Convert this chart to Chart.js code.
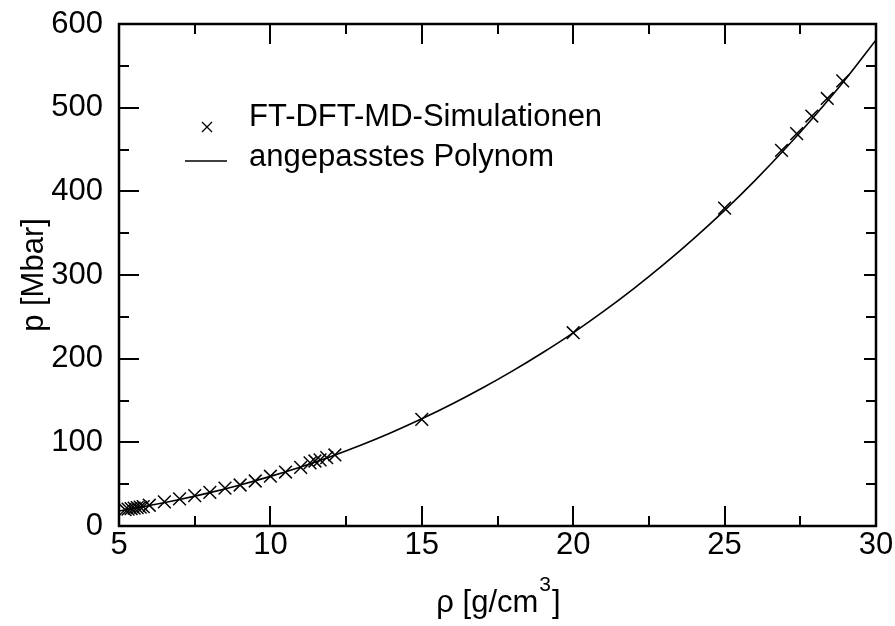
<!DOCTYPE html>
<html>
<head>
<meta charset="utf-8">
<script src="https://cdn.jsdelivr.net/npm/chart.js@4.4.1/dist/chart.umd.min.js"></script>
<style>
  html, body { margin: 0; padding: 0; background: #fff; }
  #wrap { width: 895px; height: 626px; }
</style>
</head>
<body>
<div id="wrap"><canvas id="chart"></canvas></div>
<script>
// --- Data ---
const simDensity  = [5.2, 5.3, 5.4, 5.5, 5.6, 5.7, 5.8, 6.0, 6.5, 7.0, 7.5, 8.0, 8.5, 9.0, 9.5, 10.0, 10.5, 11.0,
                     11.31, 11.47, 11.64, 11.86, 12.13, 15.0, 20.0, 25.0, 26.88, 27.38, 27.88, 28.39, 28.9];
const simPressure = [19.5, 20.2, 20.8, 21.4, 22.0, 22.6, 23.2, 24.8, 28.8, 32.5, 36.3, 40.2, 45.2, 49.0, 53.8, 59.5, 64.5, 70.0,
                     75.5, 77.7, 79.0, 81.7, 84.9, 127.5, 231, 380, 449, 469, 490, 511, 532];

const fitDensity  = [5, 6, 7, 8, 9, 10, 11, 12, 13, 14, 15, 16, 17, 18, 19, 20, 21, 22, 23, 24, 25, 26, 27, 28, 29, 30];
const fitPressure = [18, 24.4, 31.7, 39.9, 49.1, 59.3, 70.6, 83.1, 96.8, 111.8, 128.1, 145.8, 164.9, 185.4, 207.4,
                     230.9, 256.4, 283.7, 312.9, 344.1, 377.3, 412.8, 450.8, 491.3, 534.3, 581];

const legendLabels = ['FT-DFT-MD-Simulationen', 'angepasstes Polynom'];
const xTitleParts = ['ρ [g/cm', '3', ']'];
const yTitle = 'p [Mbar]';

// --- Axis settings ---
const X_MIN = 5, X_MAX = 30, X_MAJOR = 5, X_MINOR = 2.5;
const Y_MIN = 0, Y_MAX = 600, Y_MAJOR = 100, Y_MINOR = 50;
const FONT = '"Liberation Sans", Arial, Helvetica, sans-serif';
const FONT_SIZE = 31;

function toPoints(xs, ys) { return xs.map((v, i) => ({ x: v, y: ys[i] })); }

// Frame and inward ticks on all four sides
const frameTicks = {
  id: 'frameTicks',
  afterDatasetsDraw(chart) {
    const { ctx, chartArea: a, scales: { x, y } } = chart;
    ctx.save();
    ctx.strokeStyle = '#000';
    ctx.lineWidth = 2;
    ctx.beginPath();
    for (let v = X_MIN; v <= X_MAX + 1e-9; v += X_MINOR) {
      const px = Math.round(x.getPixelForValue(v));
      const len = Math.abs(v % X_MAJOR) < 1e-6 ? 20 : 10;
      ctx.moveTo(px, a.bottom); ctx.lineTo(px, a.bottom - len);
      ctx.moveTo(px, a.top); ctx.lineTo(px, a.top + len);
    }
    for (let v = Y_MIN; v <= Y_MAX + 1e-9; v += Y_MINOR) {
      const py = Math.round(y.getPixelForValue(v));
      const major = Math.abs(v % Y_MAJOR) < 1e-6;
      ctx.moveTo(a.left, py); ctx.lineTo(a.left + (major ? 20 : 10), py);
      ctx.moveTo(a.right, py); ctx.lineTo(a.right - (major ? 12 : 10), py);
    }
    ctx.stroke();
    ctx.lineWidth = 2.5;
    ctx.strokeRect(a.left, a.top, a.right - a.left, a.bottom - a.top);
    ctx.restore();
  }
};

// Legend inside the plot (upper left) and x title with a real superscript
const annotations = {
  id: 'annotations',
  afterDraw(chart) {
    const { ctx, chartArea: a } = chart;
    ctx.save();
    ctx.strokeStyle = '#000';
    ctx.fillStyle = '#000';
    ctx.lineWidth = 1.3;
    ctx.beginPath();
    ctx.moveTo(202, 122); ctx.lineTo(212, 132);
    ctx.moveTo(212, 122); ctx.lineTo(202, 132);
    ctx.stroke();
    ctx.lineWidth = 1.6;
    ctx.beginPath();
    ctx.moveTo(185, 161); ctx.lineTo(227, 161);
    ctx.stroke();
    ctx.font = FONT_SIZE + 'px ' + FONT;
    ctx.textBaseline = 'alphabetic';
    ctx.textAlign = 'left';
    ctx.fillText(legendLabels[0], 249, 126);
    ctx.fillText(legendLabels[1], 249, 166);

    // x axis title: "ρ [g/cm" + superscript 3 + "]"
    const supFont = '21px ' + FONT;
    const mainFont = FONT_SIZE + 'px ' + FONT;
    ctx.font = mainFont;
    const w1 = ctx.measureText(xTitleParts[0]).width;
    const w3 = ctx.measureText(xTitleParts[2]).width;
    ctx.font = supFont;
    const w2 = ctx.measureText(xTitleParts[1]).width;
    let tx = (a.left + a.right) / 2 - (w1 + w2 + w3) / 2;
    const base = 612;
    ctx.font = mainFont;
    ctx.fillText(xTitleParts[0], tx, base);
    tx += w1;
    ctx.font = supFont;
    ctx.fillText(xTitleParts[1], tx + 1, base - 21);
    tx += w2 + 2;
    ctx.font = mainFont;
    ctx.fillText(xTitleParts[2], tx, base);
    ctx.restore();
  }
};

const ctx = document.getElementById('chart').getContext('2d');
const chart = new Chart(ctx, {
  type: 'scatter',
  data: {
    datasets: [
      {
        label: legendLabels[0],
        data: toPoints(simDensity, simPressure),
        pointStyle: 'crossRot',
        pointRadius: 9,
        pointBorderWidth: 1.5,
        borderColor: '#000',
        backgroundColor: '#000',
        showLine: false
      },
      {
        label: legendLabels[1],
        data: toPoints(fitDensity, fitPressure),
        showLine: true,
        borderColor: '#000',
        borderWidth: 1.6,
        pointRadius: 0,
        cubicInterpolationMode: 'monotone',
        fill: false
      }
    ]
  },
  options: {
    responsive: true,
    maintainAspectRatio: false,
    animation: false,
    events: [],
    layout: { padding: { top: 24, right: 19, left: 0, bottom: 0 } },
    plugins: { legend: { display: false }, tooltip: { enabled: false } },
    scales: {
      x: {
        type: 'linear',
        min: X_MIN, max: X_MAX,
        grid: { display: false, drawTicks: false },
        border: { display: false },
        ticks: { stepSize: X_MAJOR, color: '#000', font: { family: FONT, size: FONT_SIZE }, padding: 1, maxRotation: 0 },
        title: { display: false },
        afterFit(scale) {
          scale.height = 100;
          scale.paddingLeft = 0; scale.paddingRight = 0;
        }
      },
      y: {
        type: 'linear',
        min: Y_MIN, max: Y_MAX,
        grid: { display: false, drawTicks: false },
        border: { display: false },
        ticks: { stepSize: Y_MAJOR, color: '#000', font: { family: FONT, size: FONT_SIZE }, padding: 16 },
        title: { display: true, text: yTitle, color: '#000', font: { family: FONT, size: FONT_SIZE }, padding: { top: 16 } },
        afterFit(scale) {
          scale.width = 119;
          scale.paddingTop = 0; scale.paddingBottom = 0;
        }
      }
    }
  },
  plugins: [frameTicks, annotations]
});
</script>
</body>
</html>
